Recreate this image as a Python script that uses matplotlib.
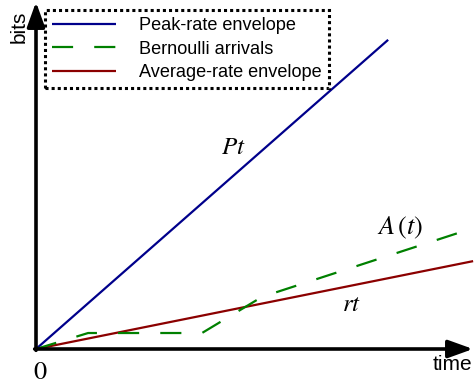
import matplotlib
matplotlib.use("Agg")
import matplotlib.pyplot as plt
import numpy as np

plt.rcParams['font.family'] = ['Liberation Sans', 'DejaVu Sans']
plt.rcParams['mathtext.fontset'] = 'stix'

# ---- data (time units, bits units) ----
peak_t = [0.0, 8.04]
peak_rate = 0.878
avg_t = [0.0, 9.98]
avg_rate = 0.201
bern_t = [0.0, 1.19, 3.79, 5.16, 9.98]
bern_bits = [0.0, 0.365, 0.365, 1.19, 2.76]
legend_labels = ["Peak-rate envelope", "Bernoulli arrivals", "Average-rate envelope"]

W, H = 474, 387
fig = plt.figure(figsize=(W / 100, H / 100), dpi=100)
ax = fig.add_axes([0, 0, 1, 1])
scale = 43.8
ox, oy = 36, 349
ax.set_xlim(-ox / scale, (W - ox) / scale)
ax.set_ylim(-(H - oy) / scale, oy / scale)
ax.axis('off')

blue = '#00008b'
green = '#008000'
red = '#8b0000'

l1, = ax.plot(peak_t, [peak_rate * t for t in peak_t], color=blue, lw=1.6,
              solid_capstyle='butt', zorder=3)
l2, = ax.plot(bern_t, bern_bits, color=green, lw=1.6, linestyle=(0, (9.5, 9.5)),
              dash_capstyle='butt', zorder=3)
l3, = ax.plot(avg_t, [avg_rate * t for t in avg_t], color=red, lw=1.6,
              solid_capstyle='butt', zorder=2)

# axes arrows
arrow_kw = dict(arrowstyle='-|>,head_length=0.75,head_width=0.27', lw=2.6, color='k',
                shrinkA=0, shrinkB=0, mutation_scale=20)
ax.annotate('', xy=(437 / scale, 0), xytext=(-0.03, 0), arrowprops=arrow_kw, zorder=4)
ax.annotate('', xy=(0, (oy - 2) / scale), xytext=(0, -0.03), arrowprops=arrow_kw, zorder=4)

# labels
ax.text(-(ox - 19) / scale, (oy - 27) / scale, 'bits', rotation=90, fontsize=15,
        ha='center', va='center')
ax.text((452 - ox) / scale, -(365 - oy) / scale, 'time', fontsize=15,
        ha='center', va='center')
ax.text((40 - ox) / scale, -(372 - oy) / scale, '$0$', fontsize=19, ha='center', va='center')
ax.text((233 - ox) / scale, (oy - 147) / scale, '$Pt$', fontsize=18, ha='center', va='center')
ax.text((400 - ox) / scale, (oy - 228) / scale, r'$A\,(t)$', fontsize=19,
        ha='center', va='center')
ax.text((352 - ox) / scale, (oy - 304) / scale, '$rt$', fontsize=18, ha='center', va='center')

leg = ax.legend([l1, l2, l3], legend_labels, loc='upper left',
                bbox_to_anchor=(45 / W, 1 - 10 / H), bbox_transform=fig.transFigure,
                borderaxespad=0, fontsize=13.1, handlelength=3.5, handletextpad=1.3,
                borderpad=0.38, labelspacing=0.37, fancybox=False, framealpha=1)
fr = leg.get_frame()
fr.set_edgecolor('k')
fr.set_linewidth(2.2)
fr.set_linestyle((0, (1, 1)))

fig.savefig('out.png', dpi=100)
